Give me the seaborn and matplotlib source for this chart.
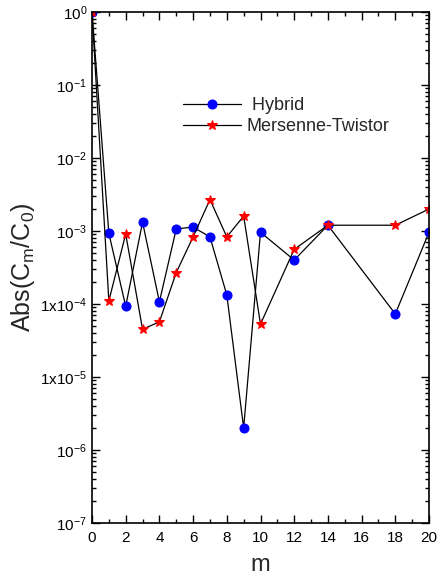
import numpy as np
import pandas as pd
import matplotlib
matplotlib.use("Agg")
import matplotlib.pyplot as plt
import seaborn as sns
from matplotlib.ticker import FixedLocator, FixedFormatter, LogLocator, MultipleLocator, NullFormatter

m_vals = [0, 1, 2, 3, 4, 5, 6, 7, 8, 9, 10, 12, 14, 18, 20]
hybrid = [1.0, 9.3e-4, 9.3e-5, 1.32e-3, 1.07e-4, 1.07e-3, 1.13e-3, 8.3e-4, 1.33e-4, 2.0e-6,
          9.6e-4, 4.0e-4, 1.2e-3, 7.3e-5, 9.6e-4]
mersenne = [1.0, 1.1e-4, 9.1e-4, 4.5e-5, 5.7e-5, 2.7e-4, 8.3e-4, 2.7e-3, 8.3e-4, 1.6e-3,
            5.3e-5, 5.6e-4, 1.2e-3, 1.2e-3, 2.0e-3]
ytick_vals = [1e0, 1e-1, 1e-2, 1e-3, 1e-4, 1e-5, 1e-6, 1e-7]
ytick_labels = [r"$10^{0}$", r"$10^{-1}$", r"$10^{-2}$", r"$10^{-3}$",
                r"$1\mathregular{x}10^{-4}$", r"$1\mathregular{x}10^{-5}$", r"$10^{-6}$", r"$10^{-7}$"]

sns.set_style("ticks")
plt.rcParams['font.family'] = ['Liberation Sans', 'DejaVu Sans']
plt.rcParams['mathtext.fontset'] = 'custom'
plt.rcParams['mathtext.rm'] = 'Liberation Sans'
plt.rcParams['mathtext.it'] = 'Liberation Sans'
plt.rcParams['mathtext.bf'] = 'Liberation Sans'

df = pd.DataFrame({"m": m_vals, "Hybrid": hybrid, "MT": mersenne})

fig = plt.figure(figsize=(4.37, 5.77), dpi=100)
ax = fig.add_axes([92/437, 1-523/577, (429-92)/437, (523-12)/577])

sns.lineplot(data=df, x="m", y="Hybrid", ax=ax, color="black", lw=0.9,
             marker="o", markersize=6.5, markerfacecolor="#0000ff", markeredgecolor="#0000ff",
             label=" Hybrid")
sns.lineplot(data=df, x="m", y="MT", ax=ax, color="black", lw=0.9,
             marker="*", markersize=7.5, markerfacecolor="#ff0000", markeredgecolor="#ff0000",
             label="Mersenne-Twistor")

ax.set_yscale("log")
ax.set_xlim(0, 20)
ax.set_ylim(1e-7, 1e0)
ax.xaxis.set_major_locator(MultipleLocator(2))
ax.xaxis.set_minor_locator(MultipleLocator(1))
ax.yaxis.set_major_locator(FixedLocator(ytick_vals))
ax.yaxis.set_major_formatter(FixedFormatter(ytick_labels))
ax.yaxis.set_minor_locator(LogLocator(base=10, subs=np.arange(2, 10)))
ax.yaxis.set_minor_formatter(NullFormatter())
ax.tick_params(which="both", direction="in", top=True, right=True, labelsize=11, width=1, colors="black")
ax.tick_params(which="major", length=6)
ax.tick_params(which="minor", length=3)
ax.tick_params(axis="x", pad=6)
for s in ax.spines.values():
    s.set_linewidth(1.2)
    s.set_color("black")

ax.set_xlabel("m", fontsize=17, labelpad=6)
ax.set_ylabel(r"Abs(C$_\mathregular{m}$/C$_\mathregular{0}$)", fontsize=18, labelpad=2)

leg = ax.legend(loc="upper left", bbox_to_anchor=(0.25, 0.847), frameon=False, fontsize=13,
                handlelength=3.2, handletextpad=0.3, labelspacing=0.2, borderaxespad=0)

fig.savefig("out.png", dpi=100)
